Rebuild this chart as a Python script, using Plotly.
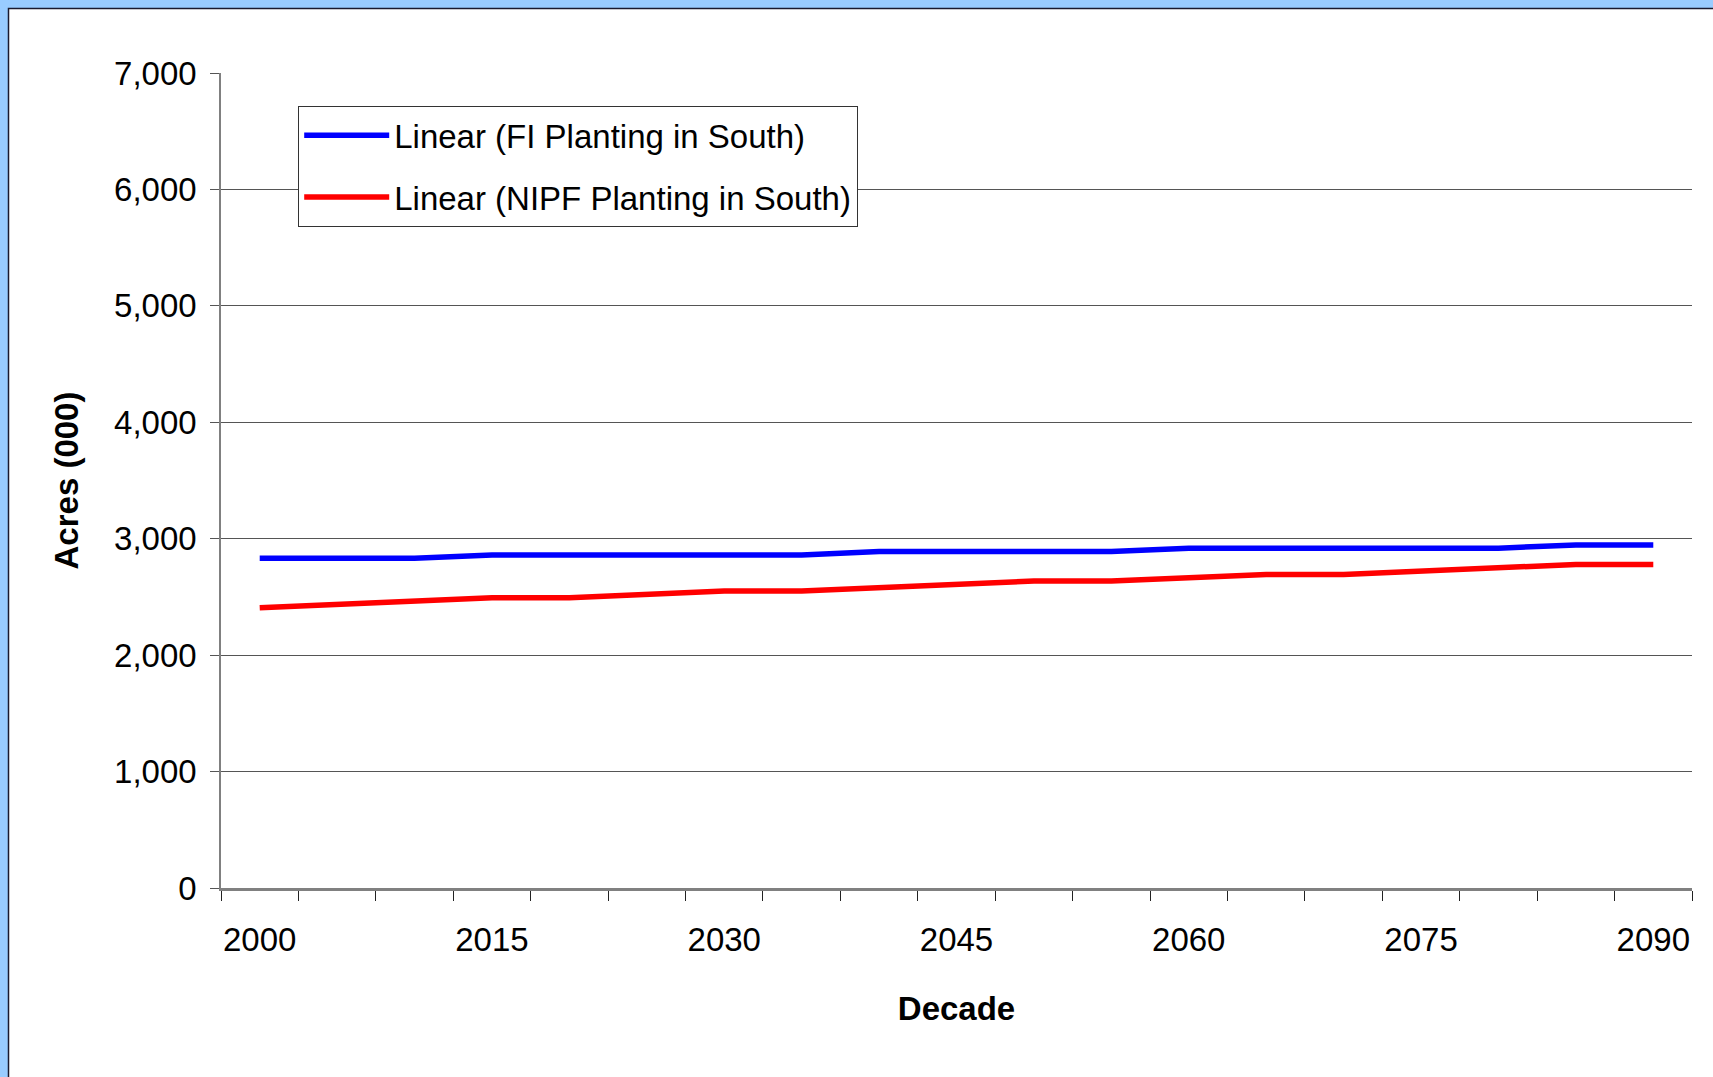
import plotly.graph_objects as go

# ---- data ----
decades = [2000, 2005, 2010, 2015, 2020, 2025, 2030, 2035, 2040, 2045,
           2050, 2055, 2060, 2065, 2070, 2075, 2080, 2085, 2090]
fi_planting = [2833, 2833, 2833, 2861, 2861, 2861, 2861, 2861, 2890, 2890,
               2890, 2890, 2919, 2919, 2919, 2919, 2919, 2947, 2947]
nipf_planting = [2407, 2436, 2464, 2493, 2493, 2522, 2550, 2550, 2579, 2607,
                 2636, 2636, 2665, 2693, 2693, 2722, 2750, 2779, 2779]
series_names = ["Linear (FI Planting in South)", "Linear (NIPF Planting in South)"]
series_colors = ["#0000FF", "#FF0000"]
x_tick_labels = [2000, 2015, 2030, 2045, 2060, 2075, 2090]
y_tick_values = [0, 1000, 2000, 3000, 4000, 5000, 6000, 7000]
y_grid_values = [1000, 2000, 3000, 4000, 5000, 6000]

FONT = "Liberation Sans, Arial, sans-serif"
W, H = 1713, 1077
ML, MR, MT, MB = 221, 21, 73, 189
PW = W - ML - MR
PH = H - MT - MB

step = decades[1] - decades[0]
boundaries = [d - step / 2 for d in decades] + [decades[-1] + step / 2]

fig = go.Figure()
for i, vals in enumerate([fi_planting, nipf_planting]):
    fig.add_trace(go.Scatter(
        x=decades, y=vals, mode="lines", name=series_names[i],
        line=dict(color=series_colors[i], width=5.5),
        legendgroup=f"g{i}",
    ))

# invisible trace to anchor gridline axis
fig.add_trace(go.Scatter(x=[decades[0]], y=[0], yaxis="y2", mode="markers",
                         marker=dict(opacity=0), showlegend=False, hoverinfo="skip"))


def px_x(p):
    return (p - ML) / PW


def px_y(p):
    return 1 - (p - MT) / PH


# white chart area with dark border on a light-blue page
fig.add_shape(type="rect", xref="paper", yref="paper",
              x0=px_x(8.5), x1=px_x(W + 20), y0=px_y(H + 20), y1=px_y(8.5),
              fillcolor="white", line=dict(color="#1a1a2e", width=1.5), layer="below")

fig.update_layout(
    width=W, height=H,
    margin=dict(l=ML, r=MR, t=MT, b=MB, pad=0),
    paper_bgcolor="#99CCFF",
    plot_bgcolor="white",
    font=dict(family=FONT, size=33, color="black"),
    showlegend=True,
    legend=dict(
        x=px_x(298), y=px_y(106), xanchor="left", yanchor="top",
        bgcolor="white", bordercolor="#333333", borderwidth=1.2,
        font=dict(family=FONT, size=33, color="black"),
        itemwidth=85, tracegroupgap=16,
    ),
    xaxis=dict(
        range=[boundaries[0], boundaries[-1]],
        tickmode="array", tickvals=x_tick_labels, ticktext=[str(v) for v in x_tick_labels],
        ticks="outside", ticklen=10, tickcolor="rgba(0,0,0,0)",
        ticklabelstandoff=11,
        showgrid=False, zeroline=False,
        showline=True, linecolor="#808080", linewidth=2.5,
        tickfont=dict(family=FONT, size=33),
        minor=dict(tickmode="array", tickvals=boundaries, ticks="outside",
                   ticklen=10, tickcolor="#222222", tickwidth=1.2, showgrid=False),
        title=dict(text="<b>Decade</b>", standoff=40,
                   font=dict(family=FONT, size=33)),
    ),
    yaxis=dict(
        range=[0, 7000],
        tickmode="array", tickvals=y_tick_values, tickformat=",",
        ticks="outside", ticklen=9, tickcolor="#555555", tickwidth=1.2,
        ticklabelstandoff=7,
        showgrid=False, zeroline=False,
        showline=True, linecolor="#808080", linewidth=1.5,
        tickfont=dict(family=FONT, size=33),
        title=dict(text="<b>Acres (000)</b>", standoff=26,
                   font=dict(family=FONT, size=33)),
    ),
    yaxis2=dict(
        range=[0, 7000], overlaying="y", side="left",
        tickmode="array", tickvals=y_grid_values,
        showticklabels=False, ticks="",
        showgrid=True, gridcolor="#555555", gridwidth=1.2,
        zeroline=False, showline=False,
    ),
)

fig.write_html("out.html")
